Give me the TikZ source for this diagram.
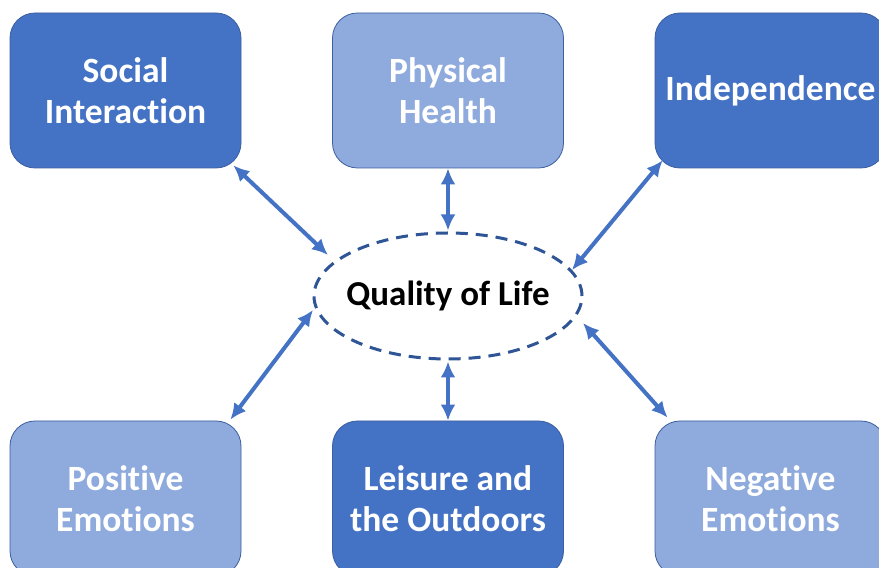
\documentclass[tikz,border=0pt]{standalone}
\usepackage{fontspec}
\setmainfont{Carlito}[Ligatures={NoCommon}]
\usetikzlibrary{shapes.geometric,arrows.meta,calc}
\definecolor{darkbox}{RGB}{68,114,196}
\definecolor{lightbox}{RGB}{143,170,220}
\definecolor{boxline}{RGB}{60,95,160}
\definecolor{ellline}{RGB}{47,85,151}
\definecolor{arrowcol}{RGB}{68,114,196}
\begin{document}
\begin{tikzpicture}[x=1pt,y=1pt,
  box/.style={rectangle, rounded corners=25pt, minimum width=231pt, minimum height=155pt,
    inner sep=0pt, align=center, text=white, font=\fontsize{35.5}{41}\selectfont\bfseries,
    draw=boxline, line width=0.8pt},
  dbox/.style={box, fill=darkbox},
  lbox/.style={box, fill=lightbox},
  link/.style={{Latex[length=16pt,width=15pt]}-{Latex[length=16pt,width=15pt]},
    line width=4pt, draw=arrowcol},
  center/.style={ellipse, draw=ellline, dash pattern=on 12pt off 8pt, line width=3pt,
    minimum width=268pt, minimum height=126pt, inner sep=0pt,
    font=\fontsize{35}{41}\selectfont\bfseries}]
\useasboundingbox (0,0) rectangle (879,568);
\fill[white] (0,0) rectangle (879,568);
\node[dbox] (si) at (125.5,477.5) {Social\\Interaction};
\node[lbox] (ph) at (448,477.5) {Physical\\Health};
\node[dbox] (ind) at (770.5,477.5) {Independence};
\node[lbox] (pe) at (125.5,69.5) {Positive\\Emotions};
\node[dbox] (lo) at (448,69.5) {Leisure and\\the Outdoors};
\node[lbox] (ne) at (770.5,69.5) {Negative\\Emotions};
\node[center] (qol) at (448,272) {\makebox[0pt]{Quality of Life}};
\draw[link] ($(si.south east)+(-8,3)$) -- ($(qol)+(-120,41)$);
\draw[link] (ph.south) -- ($(qol.north)+(0,1)$);
\draw[link] ($(ind.south west)+(8,8)$) -- ($(qol)+(124,26)$);
\draw[link] ($(pe.north east)+(-11,1)$) -- ($(qol)+(-135,-14)$);
\draw[link] (lo.north) -- ($(qol.south)+(0,-1)$);
\draw[link] ($(ne.north west)+(13,3)$) -- ($(qol)+(135,-27)$);
\end{tikzpicture}
\end{document}
